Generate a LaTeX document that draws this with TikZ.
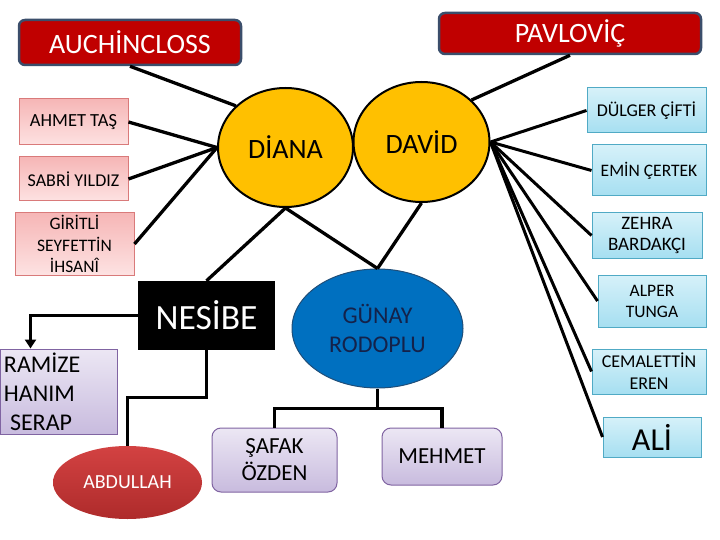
\documentclass[tikz,border=0pt]{standalone}
\usepackage{fontspec}
\setmainfont{Carlito}
\usetikzlibrary{shapes.geometric,arrows.meta,calc}
\definecolor{darkred}{HTML}{C00000}
\definecolor{slateb}{HTML}{3B4E6B}
\definecolor{pinktop}{HTML}{F6B6B6}
\definecolor{pinkbot}{HTML}{FDE2E2}
\definecolor{pinkbd}{HTML}{D97A7A}
\definecolor{bluetop}{HTML}{D6F1F9}
\definecolor{bluebot}{HTML}{A6DFF1}
\definecolor{bluebd}{HTML}{50AAC5}
\definecolor{lavtop}{HTML}{ECE7F4}
\definecolor{lavbot}{HTML}{C8BBDE}
\definecolor{lavbd}{HTML}{8064A2}
\definecolor{gold}{HTML}{FFC000}
\definecolor{gblue}{HTML}{0070C0}
\definecolor{gborder}{HTML}{1F4E79}
\definecolor{navytext}{HTML}{14224A}
\definecolor{abdtop}{HTML}{D34242}
\definecolor{abdbot}{HTML}{AE2B2B}
\newcommand{\fsz}[2]{\fontsize{#1}{#2}\selectfont}
\tikzset{
  redbox/.style={draw=slateb, line width=2.5pt, fill=darkred, rounded corners=6pt, text=white, inner sep=0pt},
  pinkbox/.style={draw=pinkbd, line width=1pt, top color=pinktop, bottom color=pinkbot, inner sep=0pt, align=center},
  bluebox/.style={draw=bluebd, line width=1pt, top color=bluetop, bottom color=bluebot, inner sep=0pt, align=center},
  lavbox/.style={draw=lavbd, line width=1pt, top color=lavtop, bottom color=lavbot, inner sep=0pt, align=center},
  goldcirc/.style={ellipse, draw=black, line width=2pt, fill=gold, inner sep=0pt},
  conn/.style={line width=3.3pt, black},
}
\begin{document}
\begin{tikzpicture}[x=1pt,y=-1pt]
\useasboundingbox (0,0) rectangle (720,540);
% top boxes
\node[redbox, font=\fsz{28}{32}, minimum width=222pt, minimum height=45pt] (auch) at (130,42.5) {AUCHİNCLOSS};
\node[redbox, font=\fsz{28}{32}, minimum width=262pt, minimum height=41pt] (pav) at (570,33.5) {PAVLOVİÇ};
% left pink boxes
\node[pinkbox, font=\fsz{18.5}{21}, minimum width=109pt, minimum height=46pt] (ahmet) at (73.5,122) {AHMET TAŞ};
\node[pinkbox, font=\fsz{18}{21}, minimum width=109pt, minimum height=44pt] (sabri) at (73.5,179) {SABRİ YILDIZ};
\node[pinkbox, font=\fsz{17.5}{21.5}, minimum width=119pt, minimum height=62pt] (giritli) at (74.5,244) {GİRİTLİ\\SEYFETTİN\\İHSANÎ};
% circles
\node[goldcirc, font=\fsz{28}{32}, minimum width=135pt, minimum height=119pt] (diana) at (285.5,147.5) {DİANA};
\node[goldcirc, font=\fsz{28}{32}, minimum width=136pt, minimum height=120pt] (david) at (421.5,142) {DAVİD};
% middle
\node[fill=black, text=white, font=\fsz{35.5}{40}, minimum width=137pt, minimum height=69pt, inner sep=0pt] (nesibe) at (206.5,315.5) {NESİBE};
\node[ellipse, draw=gborder, line width=1pt, fill=gblue, text=navytext, font=\fsz{24}{29}, align=center, inner sep=0pt, minimum width=171pt, minimum height=119pt] (gunay) at (377.5,328.5) {GÜNAY\\RODOPLU};
\node[lavbox, font=\fsz{24}{29}, align=left, minimum width=117pt, minimum height=85pt, text width=109pt] (ramize) at (58.5,391.5) {RAMİZE\\HANIM\\\hspace*{6pt}SERAP};
\node[ellipse, top color=abdtop, bottom color=abdbot, text=white, font=\fsz{20}{24}, inner sep=0pt, minimum width=149pt, minimum height=73pt] (abd) at (127.5,482.5) {ABDULLAH};
\node[lavbox, font=\fsz{23}{27}, rounded corners=9pt, minimum width=125pt, minimum height=64pt] (safak) at (274.5,460) {ŞAFAK\\ÖZDEN};
\node[lavbox, font=\fsz{23}{27}, rounded corners=9pt, minimum width=120pt, minimum height=57pt] (mehmet) at (442,456.5) {MEHMET};
% right blue boxes
\node[bluebox, font=\fsz{18}{21}, minimum width=119pt, minimum height=45pt] (dulger) at (646.5,110.5) {DÜLGER ÇİFTİ};
\node[bluebox, font=\fsz{17.5}{21}, minimum width=114pt, minimum height=51pt] (emin) at (649,170.5) {EMİN ÇERTEK};
\node[bluebox, font=\fsz{19}{21}, minimum width=110pt, minimum height=45pt] (zehra) at (647,235.5) {ZEHRA\\BARDAKÇI};
\node[bluebox, font=\fsz{17.5}{21}, minimum width=108pt, minimum height=52pt] (alper) at (652,301) {ALPER\\TUNGA};
\node[bluebox, font=\fsz{18}{22}, minimum width=114pt, minimum height=45pt] (cemal) at (649,371.5) {CEMALETTİN\\EREN};
\node[bluebox, font=\fsz{32}{34}, minimum width=98pt, minimum height=40pt] (ali) at (652,437) {ALİ};
% connectors
\draw[conn] (auch.south) -- (diana.140);
\draw[conn] (ahmet.east) -- (diana.west);
\draw[conn] (sabri.east) -- (diana.west);
\draw[conn] (giritli.east) -- (diana.west);
\draw[conn] (pav.south) -- (david.40);
\draw[conn] (diana.south) -- (nesibe.north);
\draw[conn] (diana.south) -- (gunay.north);
\draw[conn] (david.south) -- (gunay.north);
\foreach \b in {dulger,emin,zehra,alper,cemal,ali}
  \draw[conn, line width=3pt] (david.east) -- (\b.west);
\coordinate (ramtop) at ($(ramize.north west)+(31,0)$);
\draw[conn, -{Triangle[length=9pt,width=11pt]}] (nesibe.west) -| (ramtop);
\draw[conn] (nesibe.south) -- ++(0,47) -| (abd.north);
\draw[conn] (gunay.south) -- ++(0,20) coordinate (gj);
\draw[conn] (gj) -| (safak.north);
\draw[conn] (gj) -| (mehmet.north);
\end{tikzpicture}
\end{document}
